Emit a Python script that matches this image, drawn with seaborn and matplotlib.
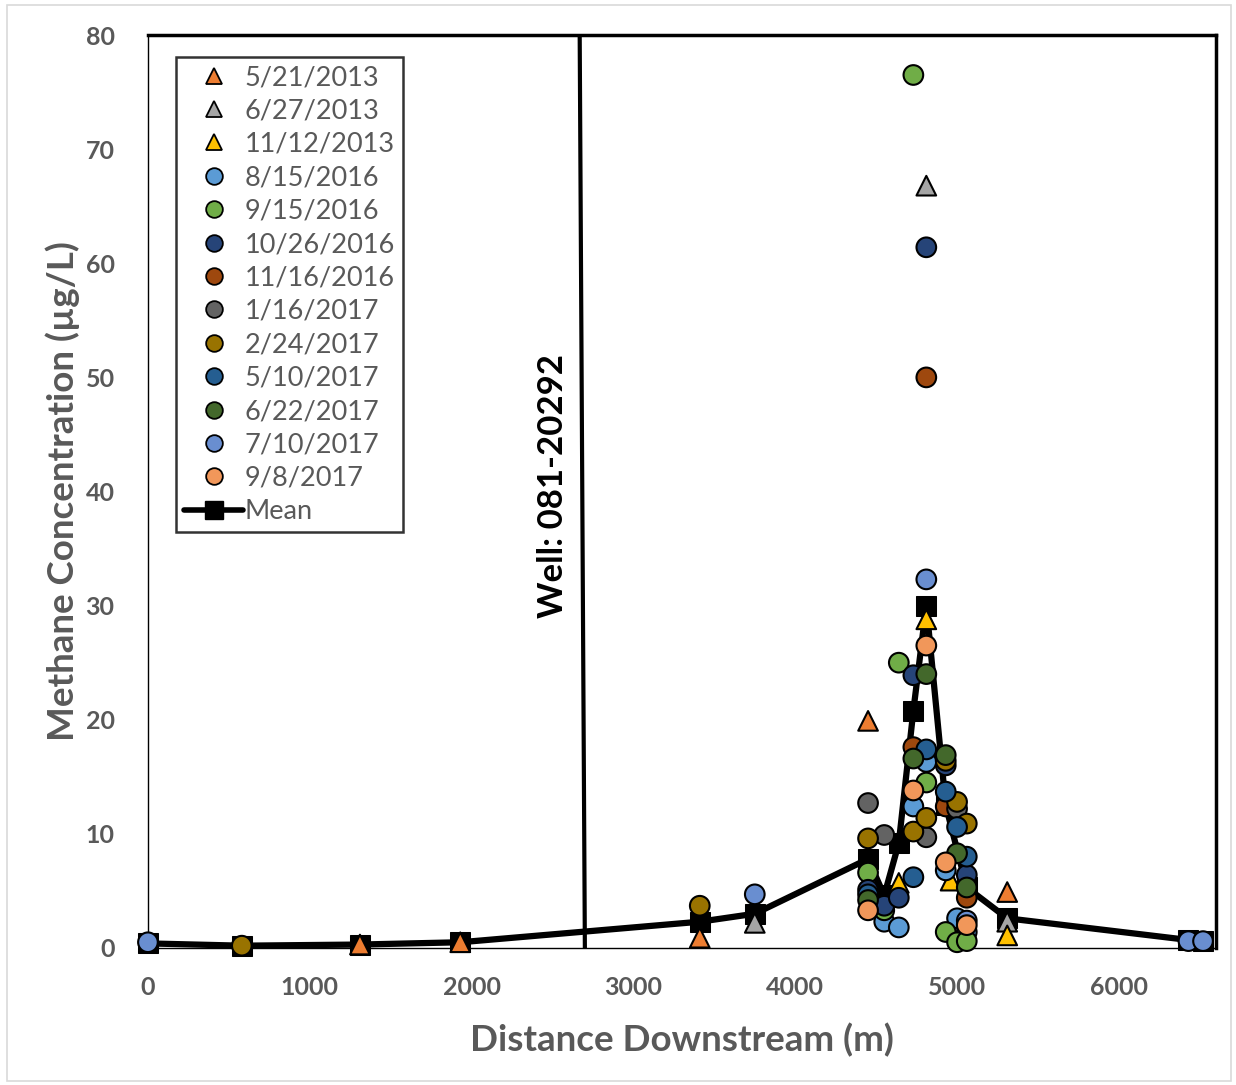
import matplotlib
matplotlib.use("Agg")
import matplotlib.pyplot as plt
from matplotlib.lines import Line2D
from matplotlib.patches import Rectangle
import pandas as pd
import seaborn as sns

# Sampling campaigns: (label, marker, colour)
campaigns = ["5/21/2013", "6/27/2013", "11/12/2013", "8/15/2016", "9/15/2016",
             "10/26/2016", "11/16/2016", "1/16/2017", "2/24/2017", "5/10/2017",
             "6/22/2017", "7/10/2017", "9/8/2017"]
markers = ["^", "^", "^", "o", "o", "o", "o", "o", "o", "o", "o", "o", "o"]
colors = ["#ED7D31", "#A5A5A5", "#FFC000", "#5B9BD5", "#70AD47", "#264478",
          "#9E480E", "#636363", "#997300", "#255E91", "#43682B", "#698ED0",
          "#F1975A"]

# Methane concentration (ug/L) by distance downstream (m), one list per campaign
dist_0521_2013 = [1310, 1930, 3410, 4450, 5310]
ch4_0521_2013 = [0.3, 0.5, 0.9, 19.9, 4.9]
dist_0627_2013 = [3750, 4810, 5310]
ch4_0627_2013 = [2.2, 66.8, 2.3]
dist_1112_2013 = [4640, 4810, 4960, 5310]
ch4_1112_2013 = [5.7, 28.8, 5.9, 1.1]
dist_0815_2016 = [4550, 4640, 4730, 4810, 4930, 5000, 5060]
ch4_0815_2016 = [2.3, 1.8, 12.4, 16.3, 6.8, 2.6, 1.4]
dist_0915_2016 = [4450, 4550, 4640, 4730, 4810, 4930, 5000, 5060]
ch4_0915_2016 = [6.6, 3.3, 25.0, 76.5, 14.5, 1.4, 0.5, 0.6]
dist_1026_2016 = [4450, 4550, 4640, 4730, 4810, 4930, 5060]
ch4_1026_2016 = [5.1, 3.7, 4.4, 23.9, 61.4, 16.0, 6.4]
dist_1116_2016 = [4730, 4810, 4930, 5060]
ch4_1116_2016 = [17.6, 50.0, 12.4, 4.4]
dist_0116_2017 = [4450, 4550, 4810, 5000]
ch4_0116_2017 = [12.7, 9.9, 9.7, 12.2]
dist_0224_2017 = [580, 3410, 4450, 4730, 4810, 4930, 5000, 5060]
ch4_0224_2017 = [0.2, 3.7, 9.6, 10.2, 11.4, 16.4, 12.8, 10.9]
dist_0510_2017 = [4450, 4730, 4810, 4930, 5000, 5060]
ch4_0510_2017 = [4.7, 6.2, 17.4, 13.7, 10.6, 8.0]
dist_0622_2017 = [4450, 4730, 4810, 4930, 5000, 5060]
ch4_0622_2017 = [4.2, 16.6, 24.0, 16.9, 8.3, 5.3]
dist_0710_2017 = [0, 3750, 4810, 5060, 6430, 6520]
ch4_0710_2017 = [0.5, 4.7, 32.3, 2.4, 0.6, 0.6]
dist_0908_2017 = [4450, 4730, 4810, 4930, 5060]
ch4_0908_2017 = [3.3, 13.8, 26.5, 7.5, 2.0]

dists = [dist_0521_2013, dist_0627_2013, dist_1112_2013, dist_0815_2016,
         dist_0915_2016, dist_1026_2016, dist_1116_2016, dist_0116_2017,
         dist_0224_2017, dist_0510_2017, dist_0622_2017, dist_0710_2017,
         dist_0908_2017]
concs = [ch4_0521_2013, ch4_0627_2013, ch4_1112_2013, ch4_0815_2016,
         ch4_0915_2016, ch4_1026_2016, ch4_1116_2016, ch4_0116_2017,
         ch4_0224_2017, ch4_0510_2017, ch4_0622_2017, ch4_0710_2017,
         ch4_0908_2017]

# Station means
mean_dist = [0, 580, 1310, 1930, 3410, 3750, 4450, 4550, 4640, 4730, 4810,
             4930, 5060, 5310, 6430, 6520]
mean_ch4 = [0.4, 0.2, 0.3, 0.5, 2.3, 3.0, 7.8, 4.6, 9.2, 20.8, 30.0,
            12.5, 5.3, 2.6, 0.7, 0.6]

well_label = "Well: 081-20292"
well_x = [2700, 2668]
well_y = [0, 80]

rows = []
for name, xs, ys in zip(campaigns, dists, concs):
    for x, y in zip(xs, ys):
        rows.append({"campaign": name, "distance": x, "methane": y})
df = pd.DataFrame(rows)
mean_df = pd.DataFrame({"distance": mean_dist, "methane": mean_ch4})

sns.set_theme(style="white")
plt.rcParams["font.family"] = ["Lato", "DejaVu Sans"]

fig = plt.figure(figsize=(12.36, 10.85), dpi=100)
ax = fig.add_axes([0.1197, 0.1263, 0.8641, 0.8414])

grey = "#595959"

# Mean line drawn underneath the individual samples
sns.lineplot(data=mean_df, x="distance", y="methane", ax=ax, color="black",
             linewidth=4.5, marker="s", markersize=14, markeredgecolor="black",
             sort=False, zorder=2, clip_on=False, legend=False)

sns.scatterplot(data=df, x="distance", y="methane", hue="campaign",
                style="campaign", hue_order=campaigns, style_order=campaigns,
                palette=dict(zip(campaigns, colors)),
                markers=dict(zip(campaigns, markers)), s=200,
                edgecolor="black", linewidth=1.5, ax=ax, zorder=3,
                clip_on=False, legend=False)

# Well location
ax.plot(well_x, well_y, color="black", linewidth=3, zorder=1)
ax.text(2500, 40.5, well_label, rotation=90, ha="center", va="center",
        fontsize=25, fontweight="bold", color="black")

ax.set_xlim(0, 6600)
ax.set_ylim(0, 80)
ax.set_xticks(range(0, 7000, 1000))
ax.set_yticks(range(0, 90, 10))
ax.tick_params(axis="both", length=0, labelsize=18, labelcolor=grey)
ax.tick_params(axis="y", pad=24)
ax.tick_params(axis="x", pad=20)
for lab in ax.get_xticklabels() + ax.get_yticklabels():
    lab.set_fontweight("bold")

ax.set_xlabel("Distance Downstream (m)", fontsize=26.5, fontweight="bold",
              color=grey, labelpad=17)
ax.set_ylabel("Methane Concentration (µg/L)", fontsize=26.5, fontweight="bold",
              color=grey, labelpad=4)

for side in ["top", "right"]:
    ax.spines[side].set_linewidth(2.5)
    ax.spines[side].set_color("black")
for side in ["left", "bottom"]:
    ax.spines[side].set_linewidth(1.0)
    ax.spines[side].set_color("black")

handles = [Line2D([], [], linestyle="none", marker=m, markersize=12,
                  markerfacecolor=c, markeredgecolor="black",
                  markeredgewidth=1.3)
           for m, c in zip(markers, colors)]
handles.append(Line2D([], [], color="black", linewidth=4, marker="s",
                      markersize=13))
leg = ax.legend(handles, campaigns + ["Mean"], loc="upper left",
                bbox_to_anchor=(0.026, 0.976), borderaxespad=0,
                frameon=True, fancybox=False,
                fontsize=19.5, labelcolor=grey, handlelength=2.2,
                handletextpad=0.05, labelspacing=0.31, borderpad=0.3)
leg.get_frame().set_edgecolor("black")
leg.get_frame().set_linewidth(1.8)

fig.patches.append(Rectangle((0.006, 0.004), 0.99, 0.991,
                             transform=fig.transFigure, fill=False,
                             edgecolor="#D9D9D9", linewidth=1.2))

fig.savefig("out.png", dpi=100)
